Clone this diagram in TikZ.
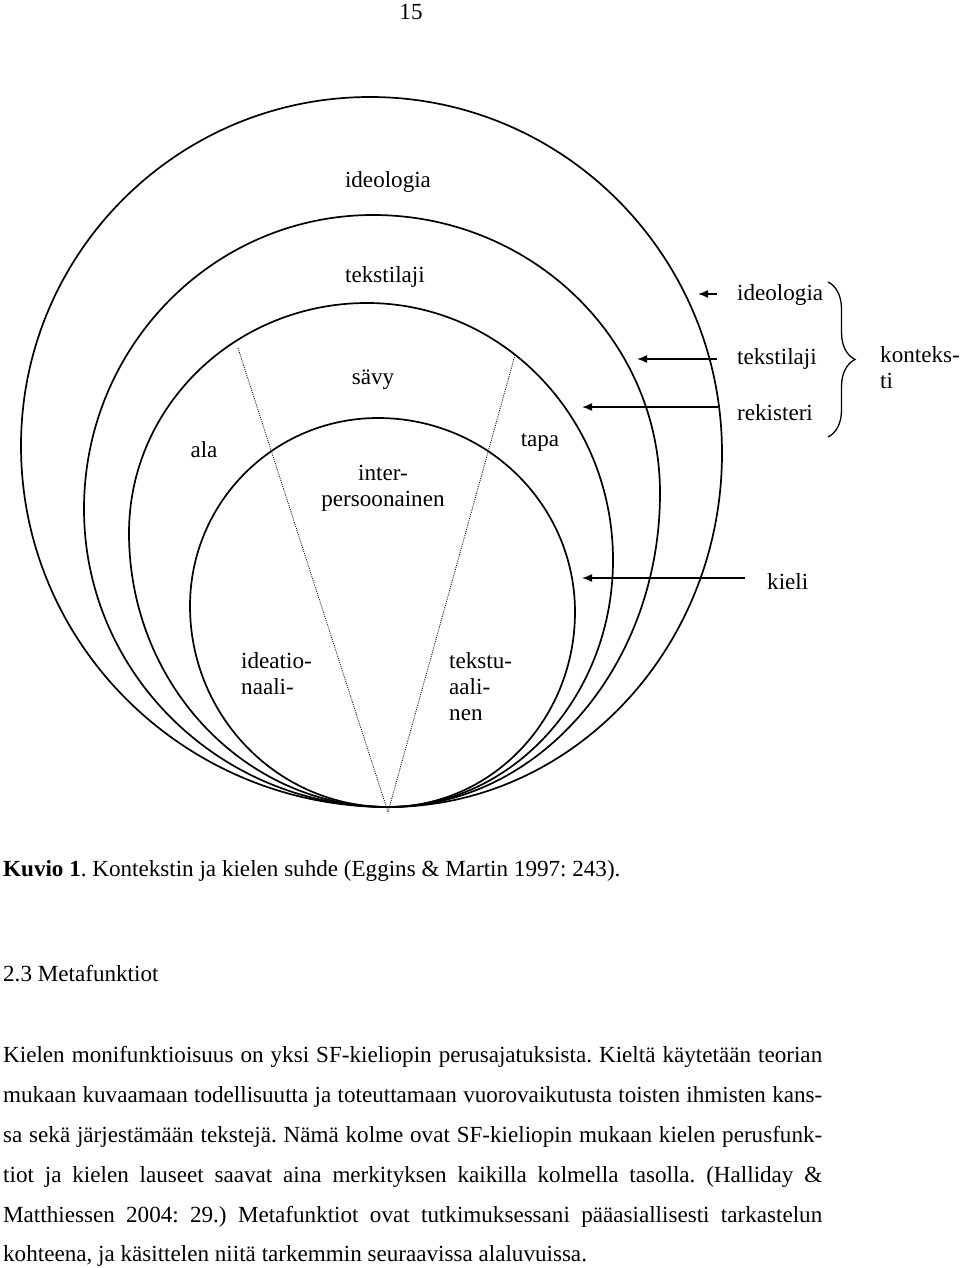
\documentclass[tikz,border=0pt]{standalone}
\usepackage{fontspec}
\setmainfont{Liberation Serif}
\usetikzlibrary{arrows.meta,decorations.pathreplacing}
\frenchspacing
\begin{document}
\begin{tikzpicture}[x=1pt,y=-1pt,
  lbl/.style={inner sep=0pt, font=\fontsize{23.1}{26}\selectfont},
  bodyline/.style={inner sep=0pt, anchor=base west, font=\fontsize{23.1}{40}\selectfont},
  ring/.style={line width=1.7pt},
  sector/.style={line width=0.8pt, dash pattern=on 1pt off 1.2pt},
  arr/.style={line width=1.5pt, -{Latex[length=10pt,width=8pt]}},
  bracestyle/.style={line width=1.3pt, decorate, decoration={brace, amplitude=27pt}}
]
\fill[white] (0,0) rectangle (960,1268);
\useasboundingbox (0,0) rectangle (960,1268);

% rings (all touching at the bottom point)
\draw[ring] (388,807) arc[start angle=270,end angle=180,x radius=367pt,y radius=361pt]
  arc[start angle=180,end angle=90,x radius=349pt,y radius=349pt]
  arc[start angle=90,end angle=0,x radius=352pt,y radius=356pt]
  arc[start angle=0,end angle=-90,x radius=334pt,y radius=354pt] -- cycle;
\draw[ring] (388,807) arc[start angle=270,end angle=180,x radius=304pt,y radius=298pt]
  arc[start angle=180,end angle=90,x radius=289pt,y radius=294pt]
  arc[start angle=90,end angle=0,x radius=287pt,y radius=278pt]
  arc[start angle=0,end angle=-90,x radius=272pt,y radius=314pt] -- cycle;
\draw[ring] (388,807) arc[start angle=270,end angle=180,x radius=259pt,y radius=274pt]
  arc[start angle=180,end angle=90,x radius=238pt,y radius=230pt]
  arc[start angle=90,end angle=0,x radius=246pt,y radius=257pt]
  arc[start angle=0,end angle=-90,x radius=225pt,y radius=247pt] -- cycle;
\draw[ring] (388,807) arc[start angle=270,end angle=180,x radius=198pt,y radius=201pt]
  arc[start angle=180,end angle=90,x radius=188pt,y radius=188pt]
  arc[start angle=90,end angle=0,x radius=197pt,y radius=194pt]
  arc[start angle=0,end angle=-90,x radius=187pt,y radius=195pt] -- cycle;

% dotted sector lines
\coordinate (apex) at (388,812);
\coordinate (ltop) at (238,348);
\coordinate (rtop) at (515,355);
\draw[sector] (ltop) -- (apex);
\draw[sector] (rtop) -- (apex);

% labels inside the rings
\node[lbl, anchor=base] (pgnum) at (411,20) {15};
\node[lbl, anchor=base] (lIdeo) at (388,187) {ideologia};
\node[lbl, anchor=base] (lTeks) at (385,282) {tekstilaji};
\node[lbl, anchor=base] (lSavy) at (373,384) {sävy};
\node[lbl, anchor=base] (lAla) at (204,457) {ala};
\node[lbl, anchor=base] (lTapa) at (540,446) {tapa};
\node[lbl, anchor=center, align=center] (lInter) at (383,488) {inter-\\persoonainen};
\node[lbl, anchor=west, align=left] (lIdeat) at (241,674) {ideatio-\\naali-};
\node[lbl, anchor=west, align=left] (lTekst) at (449,687) {tekstu-\\aali-\\nen};

% labels on the right
\node[lbl, anchor=base west] (rIdeo) at (737,300) {ideologia};
\node[lbl, anchor=base west] (rTeks) at (737,364) {tekstilaji};
\node[lbl, anchor=base west] (rRek) at (737,420) {rekisteri};
\node[lbl, anchor=base west] (rKieli) at (767,589) {kieli};
\node[lbl, anchor=west, align=left] (rKont) at (880,368) {konteks-\\ti};

% arrows
\coordinate (a1s) at (717,294); \coordinate (a1e) at (698,294);
\coordinate (a2s) at (717,359); \coordinate (a2e) at (637,359);
\coordinate (a3s) at (718,407); \coordinate (a3e) at (582,407);
\coordinate (a4s) at (745,578); \coordinate (a4e) at (582,578);
\draw[arr] (a1s) -- (a1e);
\draw[arr] (a2s) -- (a2e);
\draw[arr] (a3s) -- (a3e);
\draw[arr] (a4s) -- (a4e);

% brace
\coordinate (btop) at (828,282);
\coordinate (bbot) at (828,437);
\draw[bracestyle] (btop) -- (bbot);

% caption and text
\node[lbl, anchor=base west] (caption) at (3,876) {\textbf{Kuvio 1}. Kontekstin ja kielen suhde (Eggins \& Martin 1997: 243).};
\node[lbl, anchor=base west] (heading) at (3,981) {2.3 Metafunktiot};
\node[bodyline] (b1) at (3,1062) {\makebox[819pt][s]{Kielen monifunktioisuus on yksi SF-kieliopin perusajatuksista. Kieltä käytetään teorian}};
\node[bodyline] (b2) at (3,1102) {\makebox[819pt][s]{mukaan kuvaamaan todellisuutta ja toteuttamaan vuorovaikutusta toisten ihmisten kans-}};
\node[bodyline] (b3) at (3,1142) {\makebox[819pt][s]{sa sekä järjestämään tekstejä. Nämä kolme ovat SF-kieliopin mukaan kielen perusfunk-}};
\node[bodyline] (b4) at (3,1182) {\makebox[819pt][s]{tiot ja kielen lauseet saavat aina merkityksen kaikilla kolmella tasolla. (Halliday \&}};
\node[bodyline] (b5) at (3,1222) {\makebox[819pt][s]{Matthiessen 2004: 29.) Metafunktiot ovat tutkimuksessani pääasiallisesti tarkastelun}};
\node[bodyline] (b6) at (3,1261) {kohteena, ja käsittelen niitä tarkemmin seuraavissa alaluvuissa.};
\end{tikzpicture}
\end{document}
